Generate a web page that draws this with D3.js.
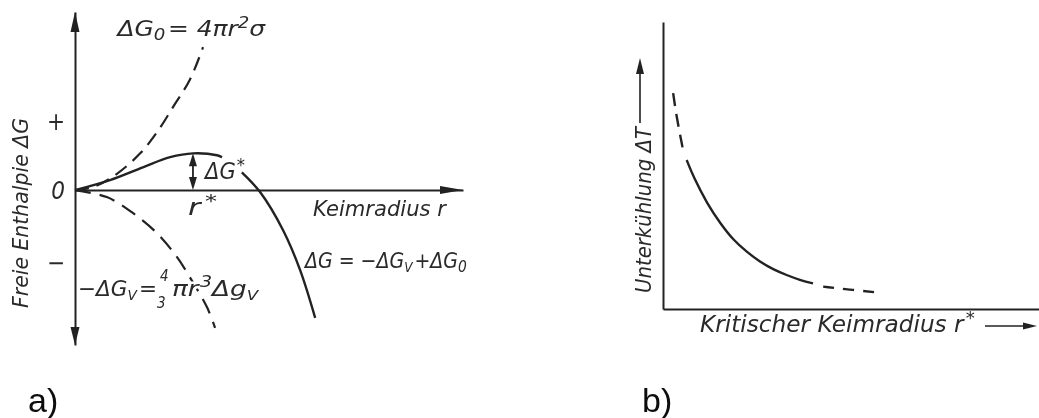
<!DOCTYPE html>
<html>
<head>
<meta charset="utf-8">
<script src="https://cdn.jsdelivr.net/npm/d3@7"></script>
<style>
  html, body { margin: 0; padding: 0; background: #fff; }
  svg { display: block; }
  .lbl { font-family: 'DejaVu Sans Condensed', 'DejaVu Sans', sans-serif; font-style: oblique; fill: #2a2a2a; }
  .tag { font-family: 'Liberation Sans', Arial, sans-serif; fill: #111; }
</style>
</head>
<body>
<svg id="chart" width="1039" height="418"></svg>
<script>
// ---- Panel a: free enthalpy of a nucleus vs. its radius (arbitrary units) ----
// surface term  ΔG0 = 4πr²σ
const surfaceR = [0, 0.50, 1.08, 1.68, 2.11, 2.53, 2.96, 3.30];
const surfaceG = [0, 0.09, 0.42, 0.95, 1.49, 2.15, 2.85, 3.69];
// volume term  −ΔGv = 4/3 πr³Δgv
const volumeR = [0, 0.82, 1.49, 2.11, 2.63, 2.96, 3.40, 3.61];
const volumeG = [0, -0.18, -0.59, -1.11, -1.73, -2.25, -3.02, -3.56];
// total  ΔG = −ΔGv + ΔG0  (null leaves room for the ΔG* label)
const totalR = [0, 0.90, 1.75, 2.45, 3.04, 3.66, 3.79, 4.05, 4.30, 4.77, 5.36, 5.80, 6.19];
const totalG = [0, 0.26, 0.59, 0.85, 0.95, 0.90, 0.85, null, 0.46, -0.05, -1.03, -2.06, -3.30];
// critical radius r* and barrier ΔG*
const rCrit = 3.04;
const gCrit = 0.95;
// sign marks on the enthalpy axis
const yTickValues = [1.8, 0, -1.85];
const yTickLabels = ["+", "0", "−"];

// ---- Panel b: undercooling vs. critical nucleus radius ----
const critRadius = [0.27, 0.36, 0.52, 0.63, 0.81, 1.17, 1.52, 1.87, 2.23, 2.58, 2.93, 3.29, 3.64, 3.99, 4.26, 5.06, 5.77];
const undercool  = [7.52, 6.70, 5.63, 5.19, 4.60, 3.68, 2.99, 2.40, 1.99, 1.64, 1.38, 1.18, 1.01, 0.89, 0.78, 0.66, 0.57];
// solid between these radii, dashed extrapolation outside
const solidFrom = 0.63;
const solidTo = 3.99;

const ink = "#232323";
const svg = d3.select("#chart");

function head(g, x, y, dir, len, half) {
  let p;
  if (dir === "up") p = [[x, y], [x - half, y + len], [x + half, y + len]];
  else if (dir === "down") p = [[x, y], [x - half, y - len], [x + half, y - len]];
  else p = [[x, y], [x - len, y - half], [x - len, y + half]];
  g.append("path").attr("d", "M" + p.join("L") + "Z").attr("fill", ink);
}

// italic formula text; optionally squeezed horizontally to the given width,
// optionally laid over a white knock-out copy so crossing lines are hidden
function label(g, x, y, size, parts, width, opts = {}) {
  const build = () => {
    const t = g.append("text").attr("class", "lbl").attr("font-size", size);
    parts.forEach(p => {
      const s = t.append("tspan").text(p.t);
      if (p.dy) s.attr("dy", p.dy);
      if (p.dx) s.attr("dx", p.dx);
      if (p.size) s.attr("font-size", p.size);
    });
    const b = t.node().getBBox();
    const k = width ? width / b.width : 1;
    t.attr("transform", `translate(${x - b.x * k},${y}) scale(${k},1)`);
    return t;
  };
  if (opts.halo) {
    build().attr("fill", "#fff").style("fill", "#fff").attr("stroke", "#fff")
      .attr("stroke-width", opts.halo).attr("stroke-linejoin", "round");
  }
  return build();
}

const defs = svg.append("defs");
defs.append("filter").attr("id", "soft").append("feGaussianBlur").attr("stdDeviation", 0.45);
const root = svg.append("g").attr("filter", "url(#soft)");

// ================= Panel a =================
const xA = d3.scaleLinear().domain([0, 10]).range([75, 463]);
const yA = d3.scaleLinear().domain([-4, 4.6]).range([345, 12]);
const gA = root.append("g");

const axX = gA.append("g").attr("transform", `translate(0,${yA(0)})`)
  .call(d3.axisBottom(xA).tickValues([]).tickSizeOuter(0));
const axY = gA.append("g").attr("transform", `translate(${xA(0)},0)`)
  .call(d3.axisLeft(yA).tickValues(yTickValues).tickFormat((d, i) => yTickLabels[i]).tickSize(0).tickPadding(10).tickSizeOuter(0));
[axX, axY].forEach(a => a.select(".domain").attr("stroke", ink).attr("stroke-width", 2));
axY.selectAll(".tick text").attr("class", "lbl").attr("font-size", 24).attr("dy", "0.36em")
  .style("font-style", (d, i) => yTickLabels[i] === "0" ? "oblique" : "normal");

head(gA, xA(0), yA(4.6), "up", 20, 4.5);
head(gA, xA(0), yA(-4), "down", 18, 4.5);
head(gA, xA(10), yA(0), "right", 23, 4);

const lineA = d3.line()
  .defined(d => d[1] !== null)
  .x(d => xA(d[0])).y(d => yA(d[1]))
  .curve(d3.curveCatmullRom);

gA.append("path").datum(d3.zip(surfaceR, surfaceG)).attr("d", lineA)
  .attr("fill", "none").attr("stroke", ink).attr("stroke-width", 2.2).attr("stroke-dasharray", "14,8");
gA.append("path").datum(d3.zip(volumeR, volumeG)).attr("d", lineA)
  .attr("fill", "none").attr("stroke", ink).attr("stroke-width", 2.2).attr("stroke-dasharray", "16,9");
gA.append("path").datum(d3.zip(totalR, totalG)).attr("d", lineA)
  .attr("fill", "none").attr("stroke", ink).attr("stroke-width", 2.4);

// barrier height arrow at r*
gA.append("line").attr("x1", xA(rCrit)).attr("x2", xA(rCrit))
  .attr("y1", yA(gCrit) + 4).attr("y2", yA(0) - 4).attr("stroke", ink).attr("stroke-width", 1.8);
head(gA, xA(rCrit), yA(gCrit), "up", 13, 4);
head(gA, xA(rCrit), yA(0), "down", 13, 4);

// labels, panel a
label(gA, 115, 36, 22, [
  { t: "ΔG" }, { t: "0", dy: 4, size: 16 }, { t: "= 4πr", dy: -4, dx: 2 }, { t: "2", dy: -8, size: 16 }, { t: "σ", dy: 8 }
], 152);
label(gA, 203, 179, 23, [{ t: "ΔG" }, { t: "*", dy: -8, dx: 1, size: 18 }], 42);
label(gA, 188, 215, 23, [{ t: "r" }, { t: "*", dy: -8, dx: 3, size: 18 }], 29);
label(gA, 313, 216, 22, [{ t: "Keimradius r" }], 135);
label(gA, 303, 268, 22, [
  { t: "ΔG = −ΔG" }, { t: "V", dy: 4, size: 14 }, { t: "+ΔG", dy: -4, dx: 2 }, { t: "0", dy: 4, size: 16 }
], 164);
label(gA, 78, 296, 22, [{ t: "−ΔG" }, { t: "V", dy: 4, size: 14 }, { t: "=", dy: -4, dx: 2 }], 79);
label(gA, 160, 281, 15, [{ t: "4" }]);
label(gA, 157, 308, 15, [{ t: "3" }]);
label(gA, 172, 296, 22, [
  { t: "πr" }, { t: "3", dy: -9, dx: 1, size: 16 }, { t: "Δg", dy: 9 }, { t: "V", dy: 4, size: 14 }
], 88, { halo: 5 });

gA.append("text").attr("class", "lbl").attr("font-size", 22)
  .attr("transform", "translate(28,213) rotate(-90)").attr("text-anchor", "middle")
  .attr("textLength", 190).attr("lengthAdjust", "spacingAndGlyphs")
  .text("Freie Enthalpie ΔG");

gA.append("text").attr("class", "tag").attr("x", 28).attr("y", 412).attr("font-size", 34).text("a)");

// ================= Panel b =================
const xB = d3.scaleLinear().domain([0, 10]).range([663, 1039]);
const yB = d3.scaleLinear().domain([0, 10]).range([309, 22]);
const gB = root.append("g");

const bX = gB.append("g").attr("transform", `translate(0,${yB(0)})`)
  .call(d3.axisBottom(xB).tickValues([]).tickSizeOuter(0));
const bY = gB.append("g").attr("transform", `translate(${xB(0)},0)`)
  .call(d3.axisLeft(yB).tickValues([]).tickSizeOuter(0));
[bX, bY].forEach(a => a.select(".domain").attr("stroke", ink).attr("stroke-width", 2));

const ptsB = d3.zip(critRadius, undercool);
const lineB = d3.line().x(d => xB(d[0])).y(d => yB(d[1])).curve(d3.curveBasis);
gB.append("path").datum(ptsB.filter(d => d[0] < solidFrom)).attr("d", lineB)
  .attr("fill", "none").attr("stroke", ink).attr("stroke-width", 2.4).attr("stroke-dasharray", "13,8");
gB.append("path").datum(ptsB.filter(d => d[0] >= solidFrom && d[0] <= solidTo)).attr("d", lineB)
  .attr("fill", "none").attr("stroke", ink).attr("stroke-width", 2.4);
gB.append("path").datum(ptsB.filter(d => d[0] > solidTo)).attr("d", lineB)
  .attr("fill", "none").attr("stroke", ink).attr("stroke-width", 2.4).attr("stroke-dasharray", "11,9");

// axis titles with direction arrows
label(gB, 700, 332, 23, [{ t: "Kritischer Keimradius r" }, { t: "*", dy: -8, dx: 2, size: 18 }], 275);
gB.append("line").attr("x1", 985).attr("x2", 1026).attr("y1", 326).attr("y2", 326).attr("stroke", ink).attr("stroke-width", 1.6);
head(gB, 1037, 326, "right", 14, 3.5);

gB.append("text").attr("class", "lbl").attr("font-size", 22)
  .attr("transform", "translate(651,293) rotate(-90)").attr("text-anchor", "start")
  .attr("textLength", 166).attr("lengthAdjust", "spacingAndGlyphs")
  .text("Unterkühlung ΔT");
gB.append("line").attr("x1", 640).attr("x2", 640).attr("y1", 123).attr("y2", 70).attr("stroke", ink).attr("stroke-width", 1.6);
head(gB, 640, 58, "up", 16, 4);

gB.append("text").attr("class", "tag").attr("x", 642).attr("y", 412).attr("font-size", 34).text("b)");
</script>
</body>
</html>
